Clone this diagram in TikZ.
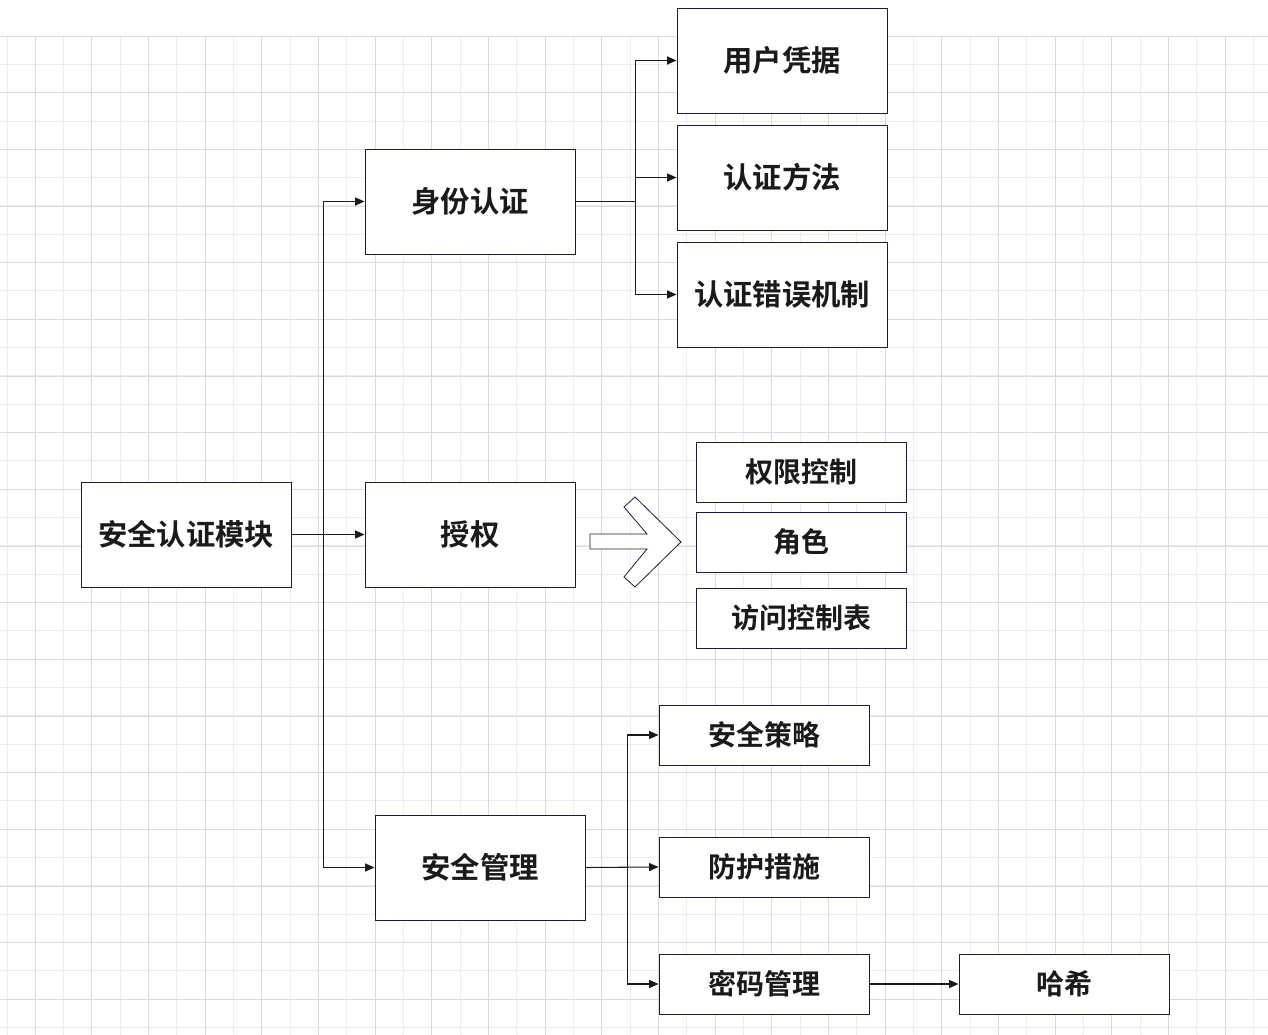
\documentclass[tikz,border=0pt]{standalone}
\usepackage{fontspec}
\usepackage{xcolor}
\usepackage{tikz}
\usetikzlibrary{arrows.meta,calc,positioning}
\setmainfont{Noto Sans CJK SC}[BoldFont={* Bold}]
\definecolor{boxline}{HTML}{161B48}
\definecolor{gridmajor}{HTML}{DADADA}
\definecolor{gridminor}{HTML}{EDEDED}
\definecolor{txt}{HTML}{1A1A1A}

\begin{document}
\begin{tikzpicture}[x=0.75pt, y=-0.75pt, >={Triangle[length=7pt, width=6pt]},
  bigbox/.style={draw=boxline, line width=0.75pt, fill=white, minimum width=157.5pt, minimum height=78.75pt, inner sep=0pt, font=\fontsize{22}{26}\selectfont\bfseries, text=txt},
  smallbox/.style={draw=boxline, line width=0.75pt, fill=white, minimum width=157.5pt, minimum height=45pt, inner sep=0pt, font=\fontsize{21}{25}\selectfont\bfseries, text=txt},
  link/.style={->, line width=0.8pt, draw=txt}]
  \useasboundingbox (0,0) rectangle (1268,1035);
  % background grid
  \begin{scope}
    \clip (0,36) rectangle (1268,1035);
    \foreach \i in {0,...,45} {
      \draw[gridminor, line width=0.75pt] (7+28.333*\i,36) -- (7+28.333*\i,1035);
    }
    \foreach \i in {0,...,36} {
      \draw[gridminor, line width=0.75pt] (0,36+28.333*\i) -- (1268,36+28.333*\i);
    }
    \foreach \i in {0,...,22} {
      \draw[gridmajor, line width=0.75pt] (35.3+56.667*\i,36) -- (35.3+56.667*\i,1035);
    }
    \foreach \i in {0,...,18} {
      \draw[gridmajor, line width=0.75pt] (0,36+56.667*\i) -- (1268,36+56.667*\i);
    }
  \end{scope}

  % main boxes
  \node[bigbox] (root) at (186,534.5) {安全认证模块};
  \node[bigbox] (idn) at (470,201.5) {身份认证};
  \node[bigbox] (authz) at (470,534.5) {授权};
  \node[bigbox] (mgmt) at (480,867.5) {安全管理};

  % identity branch
  \node[bigbox] (cred) at (782,60.5) {用户凭据};
  \node[bigbox] (method) at (782,177.5) {认证方法};
  \node[bigbox] (errmech) at (782,294.5) {认证错误机制};

  % authorization items
  \node[smallbox] (perm) at (801,472) {权限控制};
  \node[smallbox] (role) at (801,542) {角色};
  \node[smallbox] (acl) at (801,618) {访问控制表};

  % management branch
  \node[smallbox] (policy) at (764,735) {安全策略};
  \node[smallbox] (protect) at (764,867) {防护措施};
  \node[smallbox] (pwd) at (764,984) {密码管理};
  \node[smallbox] (hash) at (1064,984) {哈希};

  \draw[link] (root.east) -- ++(32,0) |- (idn.west);
  \draw[link] (root.east) -- (authz.west);
  \draw[link] (root.east) -- ++(32,0) |- (mgmt.west);

  \draw[link] (idn.east) -- ++(60,0) |- (cred.west);
  \draw[link] (idn.east) -- ++(60,0) |- (method.west);
  \draw[link] (idn.east) -- ++(60,0) |- (errmech.west);

  \draw[link] (mgmt.east) -- ++(42,0) |- (policy.west);
  \draw[link] (mgmt.east) -- (protect.west);
  \draw[link] (mgmt.east) -- ++(42,0) |- (pwd.west);

  \draw[link] (pwd.east) -- (hash.west);

  % hollow arrow
  \draw[boxline, line width=0.6pt, fill=white, line join=miter]
    (590,534) -- (647,534) -- (624,507) -- (635,497) -- (681,542)
    -- (635,587) -- (624,577) -- (647,549) -- (590,549) -- cycle;
\end{tikzpicture}
\end{document}
